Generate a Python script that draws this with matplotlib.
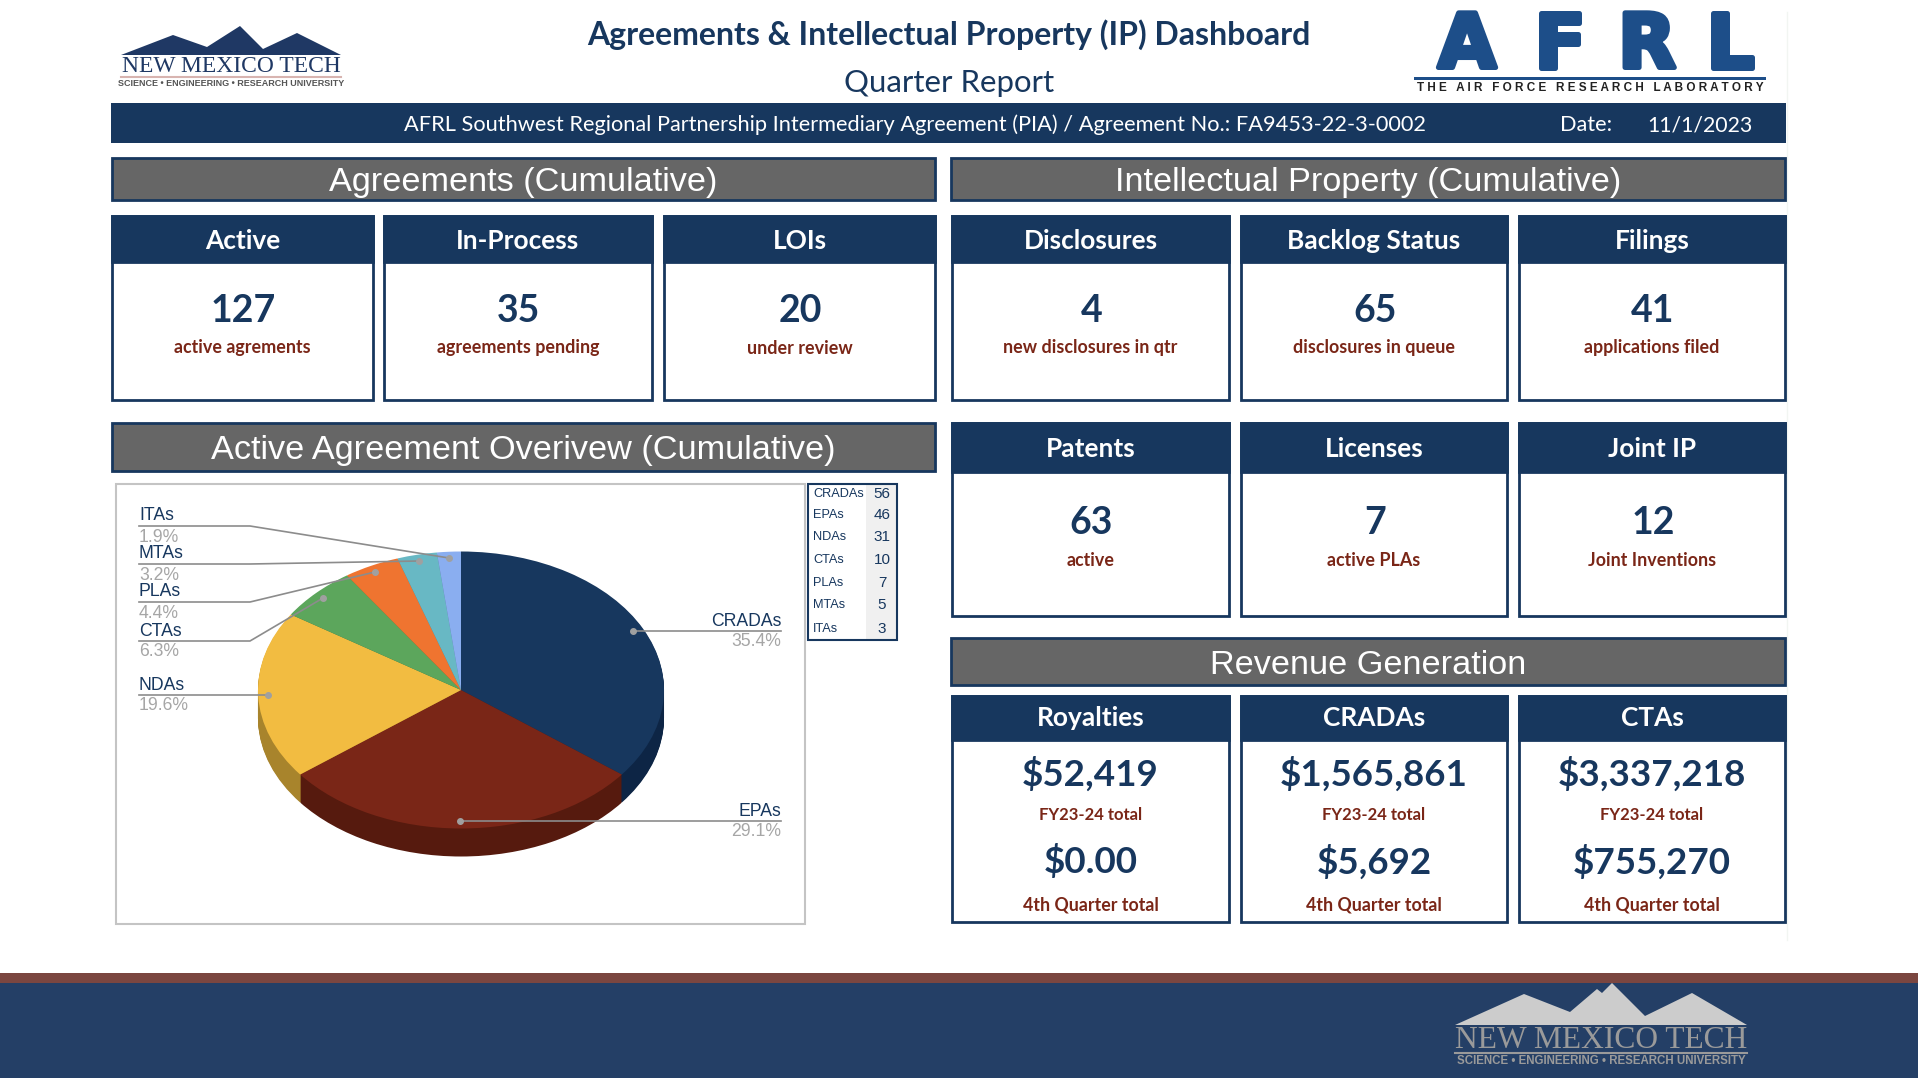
import matplotlib
matplotlib.use("Agg")
import matplotlib.pyplot as plt
from matplotlib.patches import Polygon, Rectangle
import matplotlib.patheffects as pe

W, H = 1918, 1078
NAVY = "#17375e"
RED = "#7a2617"
GRAY = "#666666"
BODY = "Lato"
ARIAL = "Liberation Sans"
SERIF = "Liberation Serif"

# pie data
categories = ["CRADAs", "EPAs", "NDAs", "CTAs", "PLAs", "MTAs", "ITAs"]
counts = [56, 46, 31, 10, 7, 5, 3]
top_colors = ["#17375e", "#7a2617", "#f2bc41", "#5ca65c", "#ef7430", "#68b8c4", "#8aaef0"]
side_colors = ["#0d2545", "#561a0e", "#a8842c", "#3c6e3c", "#a8501f", "#478088", "#5f78a8"]

# cards
agreement_titles = ["Active", "In-Process", "LOIs"]
agreement_values = ["127", "35", "20"]
agreement_notes = ["active agrements", "agreements pending", "under review"]

ip_titles = ["Disclosures", "Backlog Status", "Filings"]
ip_values = ["4", "65", "41"]
ip_notes = ["new disclosures in qtr", "disclosures in queue", "applications filed"]

ip2_titles = ["Patents", "Licenses", "Joint IP"]
ip2_values = ["63", "7", "12"]
ip2_notes = ["active", "active PLAs", "Joint Inventions"]

revenue_titles = ["Royalties", "CRADAs", "CTAs"]
revenue_fy = ["$52,419", "$1,565,861", "$3,337,218"]
revenue_qtr = ["$0.00", "$5,692", "$755,270"]


def rect(ax, x0, y0, x1, y1, face, edge="none", lw=0, z=1):
    ax.add_patch(Rectangle((x0, y0), x1 - x0, y1 - y0, facecolor=face, edgecolor=edge, linewidth=lw, zorder=z))


def label(ax, x, y, s, size, color, weight="normal", family=BODY, ha="center"):
    return ax.text(x, y, s, fontsize=size, color=color, fontweight=weight, family=family, ha=ha, va="center", zorder=5)


def section(ax, x0, y0, x1, y1, s):
    rect(ax, x0, y0, x1, y1, GRAY, NAVY, 2)
    label(ax, (x0 + x1) / 2, (y0 + y1) / 2 + 4, s, 24.7, "white", family=ARIAL)


def card(ax, x0, x1, y0, y_head, y1, title, y_title):
    rect(ax, x0, y0, x1, y1, "white", NAVY, 2)
    rect(ax, x0, y0, x1, y_head, NAVY, NAVY, 2)
    label(ax, (x0 + x1) / 2, y_title, title, 18.9, "white", "bold")


def card_row(ax, spans, y0, y_head, y1, y_title, y_value, y_note, titles, values, notes):
    for (x0, x1), t, v, n in zip(spans, titles, values, notes):
        card(ax, x0, x1, y0, y_head, y1, t, y_title)
        label(ax, (x0 + x1) / 2 + 1, y_value, v, 27, NAVY, "bold")
        label(ax, (x0 + x1) / 2, y_note, n, 12.9, RED, "bold")


def nmt_logo(ax, xs, ys, mountain, text, rule, sub, size, sub_size, y_text, y_rule, y_sub):
    ax.add_patch(Polygon(list(zip(xs, ys)), closed=True, facecolor=mountain, edgecolor="none", zorder=2))
    cx = (xs[0] + xs[-1]) / 2
    label(ax, cx, y_text, "NEW MEXICO TECH", size, text, family=SERIF)
    ax.plot([xs[0], xs[-1]], [y_rule, y_rule], color=rule, lw=1.5, zorder=2)
    label(ax, cx, y_sub, "SCIENCE \u2022 ENGINEERING \u2022 RESEARCH UNIVERSITY", sub_size, sub, "bold", ARIAL)


fig = plt.figure(figsize=(W / 100, H / 100), dpi=100, facecolor="white")
ax = fig.add_axes([0, 0, 1, 1], zorder=0)
ax.set_xlim(0, W)
ax.set_ylim(H, 0)
ax.axis("off")

# header
label(ax, 949, 35, "Agreements & Intellectual Property (IP) Dashboard", 23, NAVY, "bold")
label(ax, 949, 83, "Quarter Report", 22.4, NAVY)
nmt_logo(ax, [121, 173, 207, 229, 240, 263, 297, 341], [55, 35, 47, 33, 26, 49, 33, 55],
         "#1f3864", "#1f3864", "#d8b4b0", "#555555", 16.9, 6.45, 66, 77, 83)

# AFRL logo letters
for letter, x in zip("AFRL", [1467, 1560, 1647, 1730]):
    t = label(ax, x, 47, letter, 54, "#1d4e89", "bold", "DejaVu Sans")
    t.set_path_effects([pe.withStroke(linewidth=3.6, foreground="#1d4e89")])
rect(ax, 1414, 77, 1766, 80, "#1d4e89")
label(ax, 1590, 88, "T H E   A I R   F O R C E   R E S E A R C H   L A B O R A T O R Y", 8.5, "#222222", "bold", ARIAL)

rect(ax, 111, 103, 1786, 143, NAVY)
label(ax, 915, 125, "AFRL Southwest Regional Partnership Intermediary Agreement (PIA) / Agreement No.: FA9453-22-3-0002",
      15.65, "white")
label(ax, 1586, 125, "Date:", 15.65, "white")
label(ax, 1700, 125, "11/1/2023", 15.3, "white")
ax.plot([1787, 1787], [12, 940], color="#f2f5f2", lw=1, zorder=0)

# sections
section(ax, 112, 158, 935, 200, "Agreements (Cumulative)")
section(ax, 951, 158, 1785, 200, "Intellectual Property (Cumulative)")
section(ax, 112, 423, 935, 471, "Active Agreement Overivew (Cumulative)")
section(ax, 951, 638, 1785, 685, "Revenue Generation")

# cards
left_spans = [(112, 373), (384, 652), (664, 935)]
right_spans = [(952, 1229), (1241, 1507), (1519, 1785)]
card_row(ax, left_spans, 216, 262, 400, 241, 311, 348, agreement_titles, agreement_values, agreement_notes)
card_row(ax, right_spans, 216, 262, 400, 241, 311, 348, ip_titles, ip_values, ip_notes)
card_row(ax, right_spans, 423, 472, 616, 449, 523, 561, ip2_titles, ip2_values, ip2_notes)
for (x0, x1), t, a, b in zip(right_spans, revenue_titles, revenue_fy, revenue_qtr):
    cx = (x0 + x1) / 2
    card(ax, x0, x1, 696, 740, 922, t, 718)
    label(ax, cx, 774, a, 26.5, NAVY, "bold")
    label(ax, cx, 815, "FY23-24 total", 12, RED, "bold")
    label(ax, cx, 862, b, 26.5, NAVY, "bold")
    label(ax, cx, 905, "4th Quarter total", 12.8, RED, "bold")

# pie frame
rect(ax, 116, 484, 805, 924, "white", "#c4c4c4", 1.5)

# pie, top face squashed to the picture's ellipse, stacked dark copies make the side wall
rx, ry, depth = 203, 138.5, 28
cx, cy = 461, 690
ax_pie = fig.add_axes([(cx - rx) / W, 1 - (cy + ry + depth) / H, 2 * rx / W, (2 * ry + depth) / H], zorder=1)
for d in range(depth, 0, -1):
    ax_pie.pie(counts, colors=side_colors, startangle=90, counterclock=False, center=(0, -d / ry),
               wedgeprops={"linewidth": 0})
ax_pie.pie(counts, colors=top_colors, startangle=90, counterclock=False, wedgeprops={"linewidth": 0})
ax_pie.set_aspect("auto")
ax_pie.set_xlim(-1, 1)
ax_pie.set_ylim(-1 - depth / ry, 1)
ax_pie.axis("off")

# leaders and labels over the pie
ax_top = fig.add_axes([0, 0, 1, 1], zorder=2)
ax_top.set_xlim(0, W)
ax_top.set_ylim(H, 0)
ax_top.axis("off")

leaders = {
    "CRADAs": [(781, 631), (633, 631)],
    "EPAs": [(781, 821), (460, 821)],
    "NDAs": [(139, 695), (268, 695)],
    "CTAs": [(139, 641), (250, 641), (323, 598)],
    "PLAs": [(139, 602), (250, 602), (375, 572)],
    "MTAs": [(139, 564), (250, 564), (419, 561)],
    "ITAs": [(139, 526), (250, 526), (449, 558)],
}
total = sum(counts)
for name, n in zip(categories, counts):
    pts = leaders[name]
    xs = [p[0] for p in pts]
    ys = [p[1] for p in pts]
    ax_top.plot(xs, ys, color="#8c8c8c", lw=1.2)
    ax_top.plot(xs[-1], ys[-1], "o", color="#a0a0a0", ms=4)
    right = xs[0] > 500
    ha = "right" if right else "left"
    label(ax_top, xs[0], ys[0] - 10, name, 12.7, NAVY, family=ARIAL, ha=ha)
    label(ax_top, xs[0], ys[0] + 11, f"{100 * n / total:.1f}%", 12.7, "#a6a6a6", family=ARIAL, ha=ha)

# small table next to the pie
rect(ax, 866, 485, 896, 639, "#f0f0f0")
rect(ax, 808, 484, 897, 640, "none", NAVY, 1.5, z=3)
table_y = [494, 515, 537, 560, 583, 605, 629]
for y, name, n in zip(table_y, categories, counts):
    label(ax, 813, y, name, 9.2, NAVY, family=ARIAL, ha="left")
    label(ax, 882, y, str(n), 11, NAVY, family=ARIAL)

# footer
rect(ax, 0, 973, W, 983, "#7b4640")
rect(ax, 0, 983, W, H, "#243f66")
nmt_logo(ax, [1455, 1524, 1570, 1597, 1602, 1612, 1645, 1692, 1747],
         [1025, 994, 1012, 989, 993, 983, 1016, 993, 1025],
         "#cccccc", "#9a9a9a", "#9a9a9a", "#9a9a9a", 22.7, 8.3, 1041, 1053, 1061)

fig.savefig("out.png", dpi=100, facecolor="white")
